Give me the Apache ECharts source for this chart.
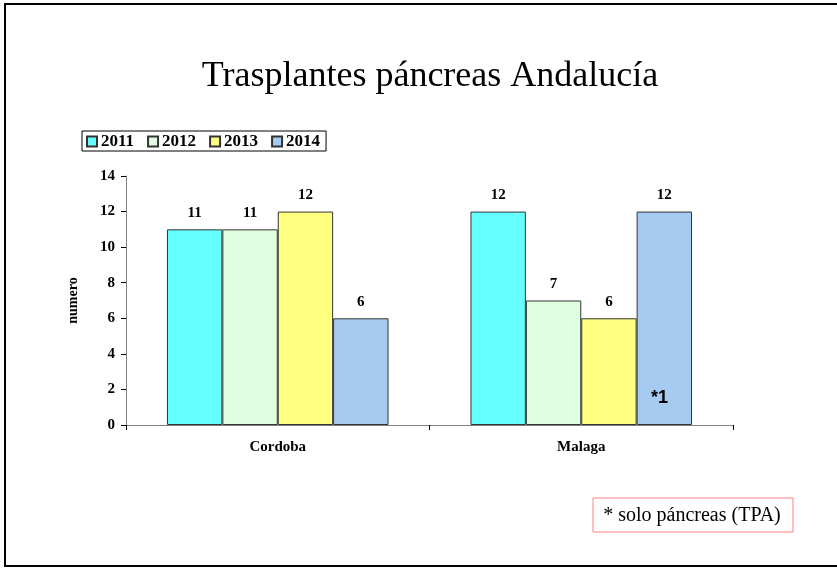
<!DOCTYPE html>
<html>
<head>
<meta charset="utf-8">
<script src="https://cdn.jsdelivr.net/npm/echarts@6/dist/echarts.min.js"></script>
<style>
  html, body { margin: 0; padding: 0; background: #fff; }
  #chart { width: 837px; height: 568px; }
</style>
</head>
<body>
<div id="chart"></div>
<script>
  const categories = ['Cordoba', 'Malaga']
  const years = ['2011', '2012', '2013', '2014']
  const values2011 = [11, 12]
  const values2012 = [11, 7]
  const values2013 = [12, 6]
  const values2014 = [6, 12]
  const yTicks = [0, 2, 4, 6, 8, 10, 12, 14]

  const colors = ['#66FFFF', '#E0FFE0', '#FFFF80', '#A6CAF0']
  const serif = '"Liberation Serif", "Times New Roman", serif'

  const seriesValues = [values2011, values2012, values2013, values2014]

  const chart = echarts.init(document.getElementById('chart'))
  chart.setOption({
    animation: false,
    backgroundColor: '#fff',
    title: {
      text: 'Trasplantes páncreas Andalucía',
      left: 425,
      textAlign: 'center',
      top: 54,
      textStyle: { fontFamily: serif, fontSize: 36, fontWeight: 'normal', color: '#000' }
    },
    legend: {
      left: 82,
      top: 131,
      orient: 'horizontal',
      borderColor: '#000',
      borderWidth: 1,
      padding: [2, 6, 1, 4],
      itemGap: 13,
      itemWidth: 10,
      itemHeight: 10,
      icon: 'rect',
      textStyle: { fontFamily: serif, fontSize: 17, fontWeight: 'bold', color: '#000', padding: [0, 0, 0, -1] },
      data: years
    },
    grid: { left: 126, right: 104, top: 176, bottom: 143, containLabel: false },
    xAxis: {
      type: 'category',
      data: categories,
      axisLine: { lineStyle: { color: '#808080', width: 1 } },
      axisTick: { show: true, length: 5, lineStyle: { color: '#000' } },
      axisLabel: { fontFamily: serif, fontSize: 15, fontWeight: 'bold', color: '#000', margin: 15 }
    },
    yAxis: {
      type: 'value',
      min: 0,
      max: yTicks[yTicks.length - 1],
      interval: 2,
      name: 'numero',
      nameLocation: 'middle',
      nameGap: 46,
      nameTextStyle: { fontFamily: serif, fontSize: 14, fontWeight: 'bold', color: '#000' },
      axisLine: { show: true, lineStyle: { color: '#808080', width: 1 } },
      axisTick: { show: true, length: 5, lineStyle: { color: '#000' } },
      axisLabel: { fontFamily: serif, fontSize: 15, fontWeight: 'bold', color: '#000', margin: 11 },
      splitLine: { show: false }
    },
    series: years.map((y, i) => ({
      name: y,
      type: 'bar',
      data: seriesValues[i],
      barGap: '0%',
      barCategoryGap: '27%',
      itemStyle: { color: colors[i], borderColor: '#333', borderWidth: 1 },
      label: {
        show: true,
        position: 'top',
        distance: 9,
        fontFamily: serif,
        fontSize: 15,
        fontWeight: 'bold',
        color: '#000'
      }
    })),
    graphic: [
      {
        type: 'rect',
        z: 100,
        shape: { x: 5, y: 4, width: 860, height: 562 },
        style: { fill: null, stroke: '#000', lineWidth: 2 },
        silent: true
      },
      {
        type: 'text',
        z: 100,
        x: 651,
        y: 389,
        style: { text: '*1', font: 'bold 18px "Liberation Sans", Arial, sans-serif', fill: '#000' }
      },
      {
        type: 'group',
        z: 100,
        x: 593,
        y: 498,
        children: [
          {
            type: 'rect',
            shape: { x: 0, y: 0, width: 200, height: 34 },
            style: { fill: '#fff', stroke: '#FF8080', lineWidth: 1 }
          },
          {
            type: 'text',
            x: 99,
            y: 18,
            style: {
              text: '* solo páncreas (TPA)',
              font: '20px "Liberation Serif", "Times New Roman", serif',
              fill: '#000',
              align: 'center',
              verticalAlign: 'middle'
            }
          }
        ]
      }
    ]
  })
</script>
</body>
</html>
